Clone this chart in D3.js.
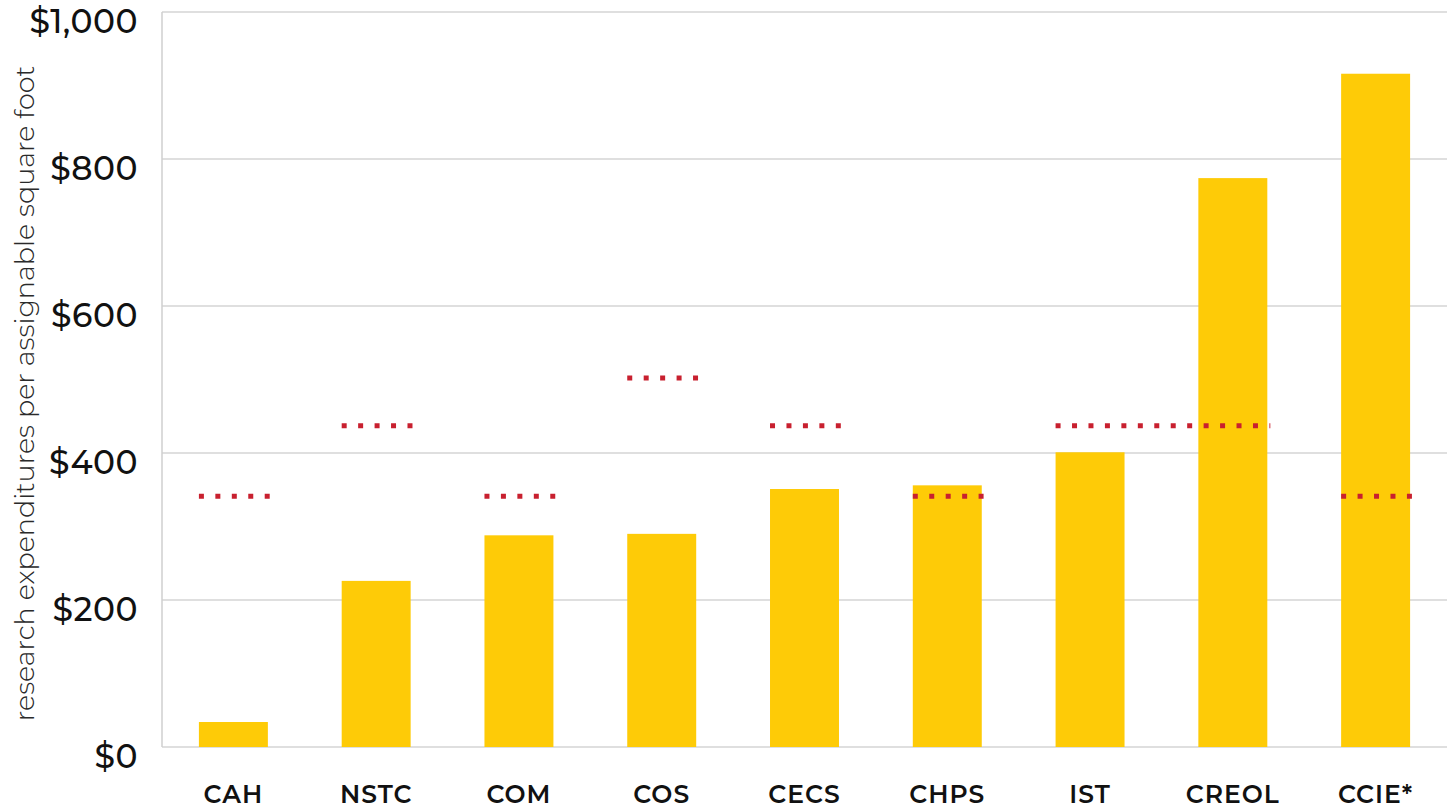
<!DOCTYPE html>
<html>
<head>
<meta charset="utf-8">
<script src="https://cdn.jsdelivr.net/npm/d3@7"></script>
<style>
  html, body { margin: 0; padding: 0; background: #fff; }
  svg { display: block; }
  text { font-family: "Montserrat", "Lato", "Open Sans", sans-serif; fill: #111; }
</style>
</head>
<body>
<svg id="chart" width="1453" height="810"></svg>
<script>
// Colleges, ordered by research expenditures per assignable square foot
const colleges = ["CAH", "NSTC", "COM", "COS", "CECS", "CHPS", "IST", "CREOL", "CCIE*"];
const expenditures = [34, 226, 288, 290, 351, 356, 401, 774, 916];
// Benchmark level for each college (dotted line)
const benchmarks = [341, 437, 341, 502, 437, 341, 437, 437, 341];
const yTicks = [0, 200, 400, 600, 800, 1000];
const yTitle = "research expenditures per assignable square foot";

const svg = d3.select("#chart");
const margin = { left: 162, right: 6, top: 12, bottom: 63 };
const W = 1453, H = 810;

const x = d3.scaleBand()
  .domain(colleges)
  .range([margin.left, W - margin.right])
  .paddingInner(0.517)
  .paddingOuter(0.2585);

const y = d3.scaleLinear()
  .domain([0, 1000])
  .range([H - margin.bottom, margin.top]);

// Horizontal gridlines
svg.append("g")
  .selectAll("line")
  .data(yTicks)
  .join("line")
  .attr("x1", margin.left)
  .attr("x2", W - margin.right)
  .attr("y1", d => y(d))
  .attr("y2", d => y(d))
  .attr("stroke", "#d4d4d4")
  .attr("stroke-width", 1.5);

// Left frame line
svg.append("line")
  .attr("x1", margin.left).attr("x2", margin.left)
  .attr("y1", y(1000)).attr("y2", y(0))
  .attr("stroke", "#cfcfcf").attr("stroke-width", 1.5);

// Y tick labels
const fmt = d3.format("$,");
svg.append("g")
  .selectAll("text")
  .data(yTicks)
  .join("text")
  .attr("x", 138)
  .attr("y", d => y(d) + 12)
  .attr("text-anchor", "end")
  .attr("dominant-baseline", "middle")
  .attr("font-size", 33)
  .attr("font-weight", 500)
  .attr("letter-spacing", 0.5)
  .text(d => fmt(d));

// Y axis title
svg.append("text")
  .attr("transform", `translate(27, ${(y(0) + y(1000)) / 2 + 14}) rotate(-90)`)
  .attr("text-anchor", "middle")
  .attr("dominant-baseline", "middle")
  .attr("font-size", 27)
  .attr("font-weight", 300)
  .style("fill", "#2a2a2a")
  .text(yTitle);

// Bars
svg.append("g")
  .selectAll("rect")
  .data(colleges)
  .join("rect")
  .attr("x", d => x(d))
  .attr("width", x.bandwidth())
  .attr("y", (d, i) => y(expenditures[i]))
  .attr("height", (d, i) => y(0) - y(expenditures[i]))
  .attr("fill", "#fecb07");

// Benchmark segments: neighbouring colleges sharing a level are joined
const segments = [];
benchmarks.forEach((v, i) => {
  const last = segments[segments.length - 1];
  if (last && last.value === v && last.end === i - 1) {
    last.end = i;
  } else {
    segments.push({ value: v, start: i, end: i });
  }
});

svg.append("g")
  .selectAll("line")
  .data(segments)
  .join("line")
  .attr("x1", d => x(colleges[d.start]))
  .attr("x2", d => x(colleges[d.end]) + x.bandwidth() + 3)
  .attr("y1", d => y(d.value))
  .attr("y2", d => y(d.value))
  .attr("stroke", "#c8202f")
  .attr("stroke-width", 5)
  .attr("stroke-dasharray", "5,11.45");

// Category labels
svg.append("g")
  .selectAll("text")
  .data(colleges)
  .join("text")
  .attr("x", d => x(d) + x.bandwidth() / 2)
  .attr("y", 796)
  .attr("text-anchor", "middle")
  .attr("dominant-baseline", "middle")
  .attr("font-size", 25)
  .attr("font-weight", 600)
  .attr("letter-spacing", 1.0)
  .text(d => d);
</script>
</body>
</html>
